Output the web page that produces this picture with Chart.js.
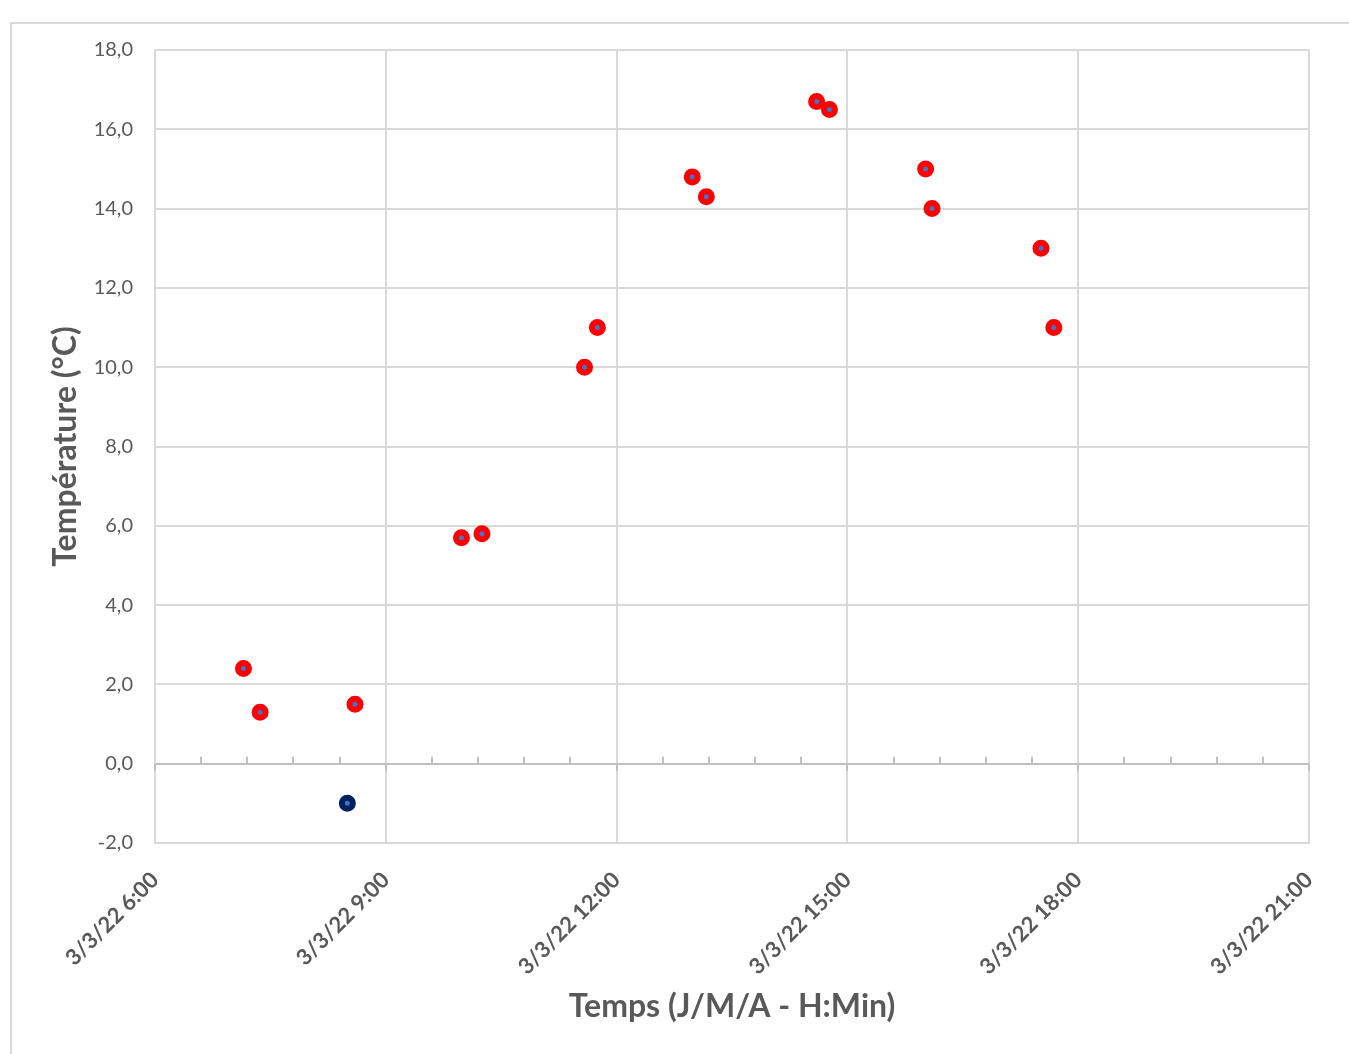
<!DOCTYPE html>
<html>
<head>
<meta charset="utf-8">
<script src="https://cdn.jsdelivr.net/npm/chart.js@4/dist/chart.umd.min.js"></script>
<style>
	body { margin: 0; background: #fff; overflow: hidden; }
	#frame { position: absolute; left: 10px; top: 22px; width: 1400px; height: 1100px; border: 2px solid #d9d9d9; }
	#wrap { position: absolute; left: 0; top: 0; width: 1349px; height: 1054px; }
</style>
</head>
<body>
<div id="frame"></div>
<div id="wrap"><canvas id="chart"></canvas></div>
<script>
// mesures (heure, température)
const heures = ['7:09', '7:22', '8:36', '9:59', '10:15', '11:35', '11:45', '12:59', '13:10', '14:36', '14:46', '16:01', '16:06', '17:31', '17:41'];
const temperatures = [2.4, 1.3, 1.5, 5.7, 5.8, 10.0, 11.0, 14.8, 14.3, 16.7, 16.5, 15.0, 14.0, 13.0, 11.0];
// point a part (bleu)
const heuresBleu = ['8:30'];
const temperaturesBleu = [-1.0];
// etiquettes de l'axe x (toutes les 3h, de 6:00 a 21:00)
const xTickLabels = ['3/3/22 6:00', '3/3/22 9:00', '3/3/22 12:00', '3/3/22 15:00', '3/3/22 18:00', '3/3/22 21:00'];

const grisTexte = '#595959';
const grisGrille = '#d9d9d9';

// "7:09" -> 7.15 (heures)
function enHeures(s){
	const p = s.split(':');
	return Number(p[0]) + Number(p[1]) / 60;
}
function points(hs, ts){
	let arr = [];
	for(let i=0; i<hs.length; i++){
		arr.push({x: enHeures(hs[i]), y: ts[i]});
	}
	return arr;
}

// petites graduations sur la ligne du zero (toutes les 36 min)
const zeroLineTicks = {
	id: 'zeroLineTicks',
	beforeDatasetsDraw(chart){
		const x = chart.scales.x, y = chart.scales.y;
		const c = chart.ctx;
		const y0 = y.getPixelForValue(0);
		c.save();
		c.strokeStyle = '#bfbfbf';
		c.lineWidth = 2;
		for(let i=0; i<=25; i++){
			const px = Math.round(x.getPixelForValue(6 + i * 0.6));
			c.beginPath();
			if(i % 5 === 0){
				c.moveTo(px, y0);
				c.lineTo(px, y0 + 7);
			}else{
				c.moveTo(px, y0);
				c.lineTo(px, y0 - 7);
			}
			c.stroke();
		}
		c.restore();
	}
};

const ctx = document.querySelector('#chart');
const chart = new Chart(ctx, {
	type: 'scatter',
	data: {
		datasets: [{
			label: 'Température',
			data: points(heures, temperatures),
			backgroundColor: '#4472c4',
			borderColor: '#ff0000',
			borderWidth: 6,
			pointRadius: 5.5,
			pointHoverRadius: 5.5
		},{
			label: 'Point bleu',
			data: points(heuresBleu, temperaturesBleu),
			backgroundColor: '#4472c4',
			borderColor: '#002060',
			borderWidth: 6,
			pointRadius: 5.5,
			pointHoverRadius: 5.5
		}]
	},
	options: {
		responsive: true,
		maintainAspectRatio: false,
		animation: false,
		layout: { padding: { left: 0, right: 40, top: 50, bottom: 0 } },
		plugins: { legend: { display: false }, tooltip: { enabled: false } },
		scales: {
			x: {
				type: 'linear',
				min: 6,
				max: 21,
				// hauteur fixe + pas de marge auto a droite
				afterFit: s => { s.height = 211; s.paddingRight = 0; },
				grid: { color: grisGrille, lineWidth: 2, drawTicks: false },
				border: { color: grisGrille, width: 2 },
				ticks: {
					stepSize: 3,
					minRotation: 45,
					maxRotation: 45,
					padding: 24,
					color: grisTexte,
					font: { family: 'Lato', size: 22, weight: 'bold' },
					callback: v => xTickLabels[(v - 6) / 3]
				},
				title: {
					display: true,
					text: 'Temps (J/M/A - H:Min)',
					color: grisTexte,
					font: { family: 'Lato', size: 32, weight: 'bold' },
					padding: { top: 0, bottom: 28 }
				}
			},
			y: {
				min: -2,
				max: 18,
				afterFit: s => { s.width = 155; },
				grid: {
					color: c => c.tick && c.tick.value === 0 ? '#bfbfbf' : grisGrille,
					lineWidth: 2,
					drawTicks: false
				},
				border: { color: grisGrille, width: 2 },
				ticks: {
					stepSize: 2,
					padding: 22,
					color: grisTexte,
					font: { family: 'Lato', size: 20 },
					callback: v => v.toFixed(1).replace('.', ',')
				},
				title: {
					display: true,
					text: 'Température (°C)',
					color: grisTexte,
					font: { family: 'Lato', size: 32, weight: 'bold' },
					padding: { top: 46, bottom: 0 }
				}
			}
		}
	},
	plugins: [zeroLineTicks]
});
</script>
</body>
</html>
